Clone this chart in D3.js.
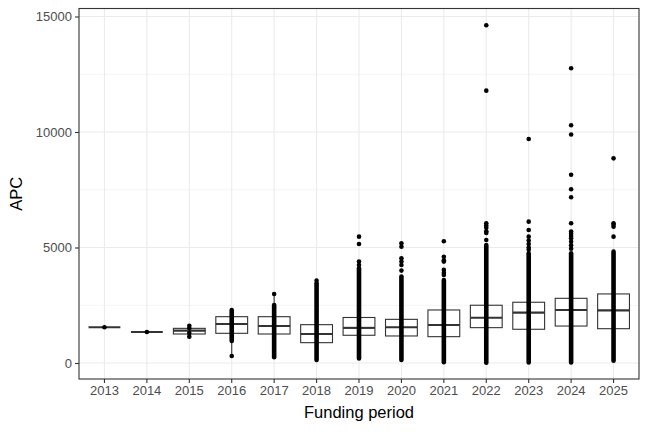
<!DOCTYPE html>
<html>
<head>
<meta charset="utf-8">
<script src="https://cdn.jsdelivr.net/npm/d3@7"></script>
<style>
  html, body { margin:0; padding:0; background:#fff; }
  svg { display:block; font-family:'Liberation Sans', Arial, sans-serif; }
</style>
</head>
<body>
<svg id="chart" width="648" height="432"></svg>
<script>

// data
var years     = ['2013','2014','2015','2016','2017','2018','2019','2020','2021','2022','2023','2024','2025'];
var q1        = [1546, 1342, 1255, 1285, 1255,  880, 1200, 1170, 1140, 1530, 1460, 1600, 1485];
var medians   = [1546, 1342, 1400, 1690, 1600, 1255, 1520, 1545, 1645, 1960, 2180, 2295, 2280];
var q3        = [1546, 1342, 1500, 2005, 2005, 1660, 1970, 1890, 2295, 2500, 2630, 2800, 2990];
var whiskerLo = [1546, 1342, 1140,  303,  247,  130,  200,  130,   30,   15,   20,   20,  100];
var whiskerHi = [1546, 1342, 1615, 2295, 2990, 2830, 3120, 2970, 3530, 3950, 4380, 4600, 4800];

// columns of overlapping points (low, high)
var denseLo   = [null, null, null,  950,  250,  130,  200,  130,   30,   15,   20,   20,  100];
var denseHi   = [null, null, null, 2295, 2510, 3450, 4100, 3740, 3590, 5110, 4750, 4750, 4820];

// single points that stand apart
var singlePts = [
  [1546],
  [1342],
  [1140, 1300, 1500, 1615],
  [303],
  [2990],
  [3565],
  [5470, 5150, 4390, 4240],
  [5180, 5035, 4530, 4390, 4240, 4000],
  [5270, 4600, 4450, 4390, 4030, 3900, 3810],
  [14620, 11790, 6050, 5950, 5850, 5700, 5630, 5325],
  [9700, 6120, 5760, 5470, 5300, 5150, 5000, 4900],
  [12760, 10290, 9890, 8150, 7520, 7175, 6050, 5690, 5600, 5500, 5400, 5250, 5100, 4950],
  [8860, 6050, 5980, 5900, 5470]
];

var yTicks      = [0, 5000, 10000, 15000];
var yMinorTicks = [2500, 7500, 12500];


// layout
var svg = d3.select('#chart');
var panel = {left:79, right:639, top:8.5, bottom:379};
var colorDark = '#333333';
var colorGrid = '#ebebeb';
var colorTickText = '#4d4d4d';
var pointR = 2.3;

var x = d3.scaleBand()
          .domain(years)
          .range([panel.left, panel.right])
          .paddingOuter(0.1)
          .paddingInner(0);
var y = d3.scaleLinear()
          .domain([0, 15000])
          .range([363, 16.5]);
var boxW = x.bandwidth()*0.75;
function cx(i){ return x(years[i]) + x.bandwidth()/2; }


// !grid
svg.append('rect')
   .attr('x',panel.left)
   .attr('y',panel.top)
   .attr('width',panel.right-panel.left)
   .attr('height',panel.bottom-panel.top)
   .attr('fill','#ffffff')

svg.selectAll('.gridMinor')
   .data(yMinorTicks)
   .enter().append('line')
   .attr('x1',panel.left)
   .attr('x2',panel.right)
   .attr('y1',function(d){ return y(d); })
   .attr('y2',function(d){ return y(d); })
   .attr('stroke',colorGrid)
   .attr('stroke-width',0.55)

svg.selectAll('.gridMajorY')
   .data(yTicks)
   .enter().append('line')
   .attr('x1',panel.left)
   .attr('x2',panel.right)
   .attr('y1',function(d){ return y(d); })
   .attr('y2',function(d){ return y(d); })
   .attr('stroke',colorGrid)
   .attr('stroke-width',1.1)

svg.selectAll('.gridMajorX')
   .data(years)
   .enter().append('line')
   .attr('x1',function(d,i){ return cx(i); })
   .attr('x2',function(d,i){ return cx(i); })
   .attr('y1',panel.top)
   .attr('y2',panel.bottom)
   .attr('stroke',colorGrid)
   .attr('stroke-width',1.1)


// !boxes
var boxes = svg.selectAll('.box')
               .data(years)
               .enter().append('g')

boxes.append('line')
     .attr('x1',function(d,i){ return cx(i); })
     .attr('x2',function(d,i){ return cx(i); })
     .attr('y1',function(d,i){ return y(whiskerLo[i]); })
     .attr('y2',function(d,i){ return y(q1[i]); })
     .attr('stroke',colorDark)
     .attr('stroke-width',1.1)
boxes.append('line')
     .attr('x1',function(d,i){ return cx(i); })
     .attr('x2',function(d,i){ return cx(i); })
     .attr('y1',function(d,i){ return y(q3[i]); })
     .attr('y2',function(d,i){ return y(whiskerHi[i]); })
     .attr('stroke',colorDark)
     .attr('stroke-width',1.1)
boxes.append('rect')
     .attr('x',function(d,i){ return cx(i)-boxW/2; })
     .attr('y',function(d,i){ return y(q3[i]); })
     .attr('width',boxW)
     .attr('height',function(d,i){ return y(q1[i])-y(q3[i]); })
     .attr('fill','#ffffff')
     .attr('stroke',colorDark)
     .attr('stroke-width',1.1)
boxes.append('line')
     .attr('x1',function(d,i){ return cx(i)-boxW/2; })
     .attr('x2',function(d,i){ return cx(i)+boxW/2; })
     .attr('y1',function(d,i){ return y(medians[i]); })
     .attr('y2',function(d,i){ return y(medians[i]); })
     .attr('stroke',colorDark)
     .attr('stroke-width',2.1)


// !points
svg.selectAll('.dense')
   .data(years.filter(function(d,i){ return denseLo[i] !== null; }))
   .enter().append('line')
   .attr('x1',function(d){ return cx(years.indexOf(d)); })
   .attr('x2',function(d){ return cx(years.indexOf(d)); })
   .attr('y1',function(d){ return y(denseLo[years.indexOf(d)]); })
   .attr('y2',function(d){ return y(denseHi[years.indexOf(d)]); })
   .attr('stroke','#000000')
   .attr('stroke-width',pointR*2)
   .attr('stroke-linecap','round')

var pts = [];
singlePts.forEach(function(list,i){
    list.forEach(function(v){ pts.push({i:i, v:v}); });
});
svg.selectAll('.pt')
   .data(pts)
   .enter().append('circle')
   .attr('cx',function(d){ return cx(d.i); })
   .attr('cy',function(d){ return y(d.v); })
   .attr('r',pointR)
   .attr('fill','#000000')


// !border and axes
svg.append('rect')
   .attr('x',panel.left)
   .attr('y',panel.top)
   .attr('width',panel.right-panel.left)
   .attr('height',panel.bottom-panel.top)
   .attr('fill','none')
   .attr('stroke',colorDark)
   .attr('stroke-width',1.1)

var yAxis = svg.append('g')
               .attr('transform','translate('+panel.left+',0)')
               .call(d3.axisLeft(y).tickValues(yTicks).tickSize(4).tickPadding(3).tickFormat(d3.format('d')))
yAxis.select('.domain').remove()
yAxis.selectAll('line').attr('stroke',colorDark).attr('stroke-width',1.1)
yAxis.selectAll('text')
     .attr('fill',colorTickText)
     .style('font-size','13px')
     .style('font-family',"'Liberation Sans', Arial, sans-serif")

var xAxis = svg.append('g')
               .attr('transform','translate(0,'+panel.bottom+')')
               .call(d3.axisBottom(x).tickSize(4).tickPadding(3))
xAxis.select('.domain').remove()
xAxis.selectAll('line').attr('stroke',colorDark).attr('stroke-width',1.1)
xAxis.selectAll('text')
     .attr('fill',colorTickText)
     .style('font-size','13px')
     .style('font-family',"'Liberation Sans', Arial, sans-serif")

svg.append('text')
   .text('Funding period')
   .attr('x',(panel.left+panel.right)/2)
   .attr('y',418)
   .attr('text-anchor','middle')
   .attr('fill','#000000')
   .style('font-size','16.5px')

svg.append('text')
   .text('APC')
   .attr('transform','translate(22,'+((panel.top+panel.bottom)/2)+') rotate(-90)')
   .attr('text-anchor','middle')
   .attr('fill','#000000')
   .style('font-size','16.5px')

</script>
</body>
</html>
